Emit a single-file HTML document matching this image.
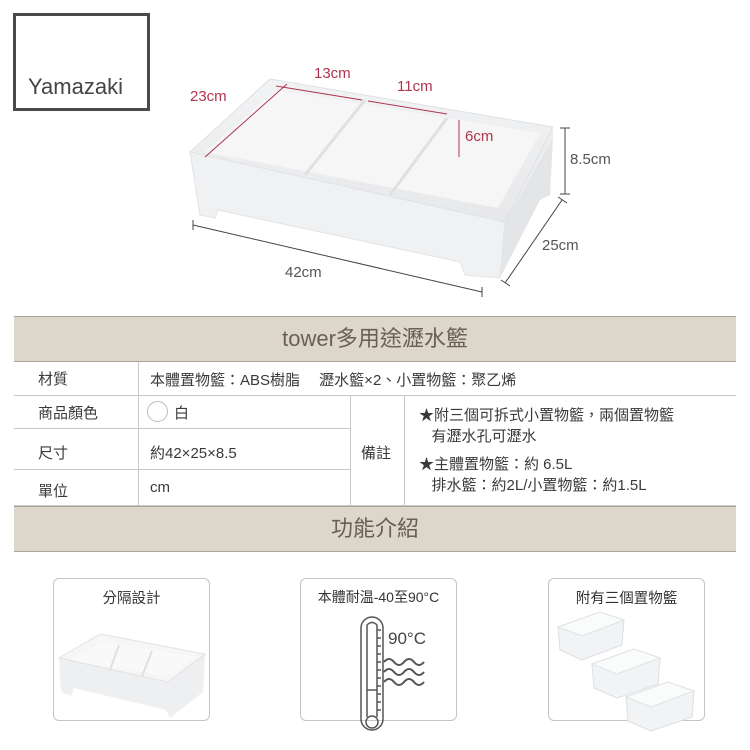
<!DOCTYPE html>
<html><head><meta charset="utf-8">
<style>
*{margin:0;padding:0;box-sizing:border-box}
body{width:750px;height:750px;background:#fff;position:relative;overflow:hidden;font-family:"Liberation Sans","Noto Sans CJK TC",sans-serif;color:#333}
.a{position:absolute}
.logo{left:13px;top:13px;width:137px;height:98px;border:3px solid #4a4a4a}
.logo span{position:absolute;left:12px;top:58px;font-size:22px;color:#444}
.band{left:14px;width:722px;background:#dcd6cb;border-top:1px solid #a9a49b;border-bottom:1px solid #a9a49b;text-align:center;color:#6b5f55;font-size:22px}
.hl{height:1px;background:#c8c8c8}
.vl{width:1px;background:#c8c8c8}
.t{font-size:15px;color:#3a3a3a;white-space:nowrap}
.card{border:1px solid #c4c4c4;border-radius:6px;width:157px;height:143px;top:578px}
.card div{text-align:center;font-size:14.5px;margin-top:8px;color:#333;white-space:nowrap}
</style></head><body>
<div class="a logo"><span>Yamazaki</span></div>

<svg class="a" style="left:0;top:0" width="750" height="310">
 <defs><linearGradient id="g" x1="0" y1="0" x2="0" y2="1"><stop offset="0" stop-color="#f2f3f4"/><stop offset="1" stop-color="#e7e8ea"/></linearGradient></defs>
 <path d="M190 152 L200 215 L215 218 L218 210 L460 262 L465 275 L500 278 L505 222 L553 138 L553 127 Z" fill="#ecedef"/>
 <path d="M190 152 L270 79 L553 127 L505 222 Z" fill="url(#g)" stroke="#dfe0e2"/>
 <path d="M205 152 L276 90 L540 133 L498 208 Z" fill="#f6f6f7"/>
 <path d="M190 152 L505 222 L500 278 L465 275 L460 262 L218 210 L215 218 L200 215 Z" fill="#f0f1f2" stroke="#e2e3e5"/>
 <path d="M505 222 L553 138 L550 195 L540 200 L500 278 Z" fill="#e4e5e7"/>
 <path d="M365 100 L305 175 M447 118 L390 195" stroke="#e0e0e2" stroke-width="3" fill="none"/>
 <g stroke="#b0344e" stroke-width="1" fill="#b0344e">
  <line x1="287" y1="84" x2="205" y2="157"/>
  <line x1="276" y1="86" x2="362" y2="100"/>
  <line x1="368" y1="101" x2="447" y2="114"/>
  <line x1="459" y1="120" x2="459" y2="157"/>
 </g>
 <g font-size="15" fill="#b0344e" font-family="Liberation Sans">
  <text x="190" y="101">23cm</text><text x="314" y="78">13cm</text><text x="397" y="91">11cm</text><text x="465" y="141">6cm</text>
 </g>
 <g stroke="#444" stroke-width="1">
  <line x1="193" y1="225" x2="482" y2="292"/><line x1="193" y1="220" x2="193" y2="230"/><line x1="482" y1="287" x2="482" y2="297"/>
  <line x1="562" y1="200" x2="505" y2="283"/><line x1="558" y1="197" x2="567" y2="203"/><line x1="501" y1="280" x2="510" y2="286"/>
  <line x1="565" y1="128" x2="565" y2="194"/><line x1="560" y1="128" x2="570" y2="128"/><line x1="560" y1="194" x2="570" y2="194"/>
 </g>
 <g font-size="15" fill="#555" font-family="Liberation Sans">
  <text x="285" y="277">42cm</text><text x="542" y="250">25cm</text><text x="570" y="164">8.5cm</text>
 </g>
</svg>

<div class="a band" style="top:316px;height:46px;line-height:44px">tower多用途瀝水籃</div>
<div class="a band" style="top:506px;height:46px;line-height:44px">功能介紹</div>
<div class="a hl" style="left:14px;top:395px;width:722px"></div>
<div class="a hl" style="left:14px;top:428px;width:336px"></div>
<div class="a hl" style="left:14px;top:469px;width:336px"></div>
<div class="a hl" style="left:14px;top:505px;width:722px"></div>
<div class="a vl" style="left:138px;top:362px;height:144px"></div>
<div class="a vl" style="left:350px;top:395px;height:111px"></div>
<div class="a vl" style="left:404px;top:395px;height:111px"></div>

<div class="a t" style="left:38px;top:368px">材質</div>
<div class="a t" style="left:150px;top:369px">本體置物籃：ABS樹脂　 瀝水籃×2、小置物籃：聚乙烯</div>
<div class="a t" style="left:38px;top:402px">商品顏色</div>
<div class="a" style="left:147px;top:401px;width:21px;height:21px;border:1px solid #bbb;border-radius:50%"></div>
<div class="a t" style="left:174px;top:402px">白</div>
<div class="a t" style="left:38px;top:442px">尺寸</div>
<div class="a t" style="left:150px;top:442px">約42×25×8.5</div>
<div class="a t" style="left:38px;top:480px">單位</div>
<div class="a t" style="left:150px;top:479px">cm</div>
<div class="a t" style="left:361px;top:442px">備註</div>
<div class="a t" style="left:419px;top:405px;line-height:21px">★附三個可拆式小置物籃，兩個置物籃<br>&nbsp;&nbsp;&nbsp;有瀝水孔可瀝水</div>
<div class="a t" style="left:419px;top:454px;line-height:21px">★主體置物籃：約 6.5L<br>&nbsp;&nbsp;&nbsp;排水籃：約2L/小置物籃：約1.5L</div>

<div class="a card" style="left:53px"><div>分隔設計</div></div>
<div class="a card" style="left:300px"><div style="font-size:14px">本體耐温-40至90°C</div></div>
<div class="a card" style="left:548px"><div>附有三個置物籃</div></div>

<svg class="a" style="left:0;top:600px" width="750" height="150">
 <path d="M59 58 L100 34 L205 54 L203 92 L170 118 L166 110 L74 88 L71 96 L61 92 Z" fill="#eeeff0"/>
 <path d="M59 58 L100 34 L205 54 L168 82 Z" fill="#f6f6f7" stroke="#e2e2e4"/>
 <path d="M71 60 L103 42 L197 57 L166 76 Z" fill="#f9f9fa"/>
 <path d="M119 45 L110 70 M152 51 L142 76" stroke="#e0e0e2" stroke-width="2"/>
 <g stroke="#555" fill="none" stroke-width="1.5">
  <rect x="361" y="17" width="22" height="113" rx="11"/>
  <circle cx="372" cy="122" r="6"/>
  <line x1="367" y1="25" x2="367" y2="117"/><line x1="377" y1="25" x2="377" y2="117"/>
  <path d="M367 25 Q372 20 377 25"/>
  <line x1="367" y1="90" x2="377" y2="90"/>
  <path d="M377 30h4M377 38h4M377 46h4M377 54h4M377 62h4M377 70h4M377 78h4M377 86h4M377 94h4M377 102h4M377 110h4"/>
  <path d="M384 62q5-6 10 0t10 0 10 0 10 0M384 72q5-6 10 0t10 0 10 0 10 0M384 82q5-6 10 0t10 0 10 0 10 0" stroke-width="2"/>
 </g>
 <text x="388" y="44" font-size="17" fill="#444" font-family="Liberation Sans">90°C</text>
 <g fill="#f1f3f4" stroke="#dcdfe2">
  <path d="M558 27 L600 12 L624 20 L622 45 L582 60 L560 50 Z"/>
  <path d="M592 64 L634 49 L660 58 L658 84 L617 98 L594 88 Z"/>
  <path d="M626 97 L668 82 L694 91 L692 117 L651 131 L628 121 Z"/>
 </g>
 <g fill="#fafbfb" stroke="#e0e2e5">
  <path d="M558 27 L600 12 L624 20 L582 36 Z"/>
  <path d="M592 64 L634 49 L660 58 L617 74 Z"/>
  <path d="M626 97 L668 82 L694 91 L651 107 Z"/>
 </g>
</svg>
</body></html>
